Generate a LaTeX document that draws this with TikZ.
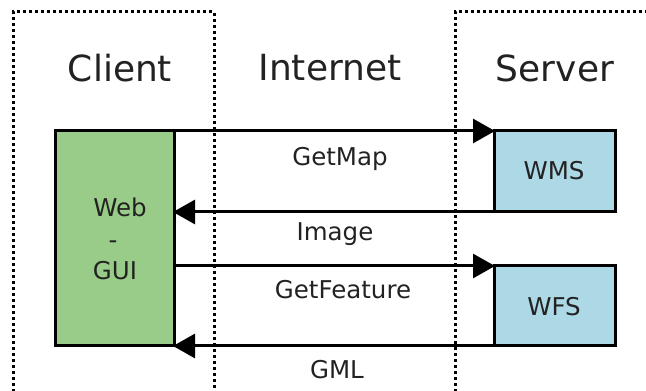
\documentclass[tikz,border=0pt]{standalone}
\usepackage{fontspec}
\setmainfont{DejaVu Sans}
\usetikzlibrary{arrows.meta}
\definecolor{guigreen}{HTML}{99CC88}
\definecolor{srvblue}{HTML}{ADD8E6}
\definecolor{txt}{HTML}{222222}
\tikzset{
  zone/.style={draw=black, line width=3pt, dash pattern=on 3pt off 3pt},
  zonetitle/.style={font=\fontsize{36}{40}\selectfont, text=txt},
  lbl/.style={font=\fontsize{24.5}{28}\selectfont, text=txt, anchor=base},
  gui/.style={draw=black, line width=3pt, fill=guigreen},
  svc/.style={draw=black, line width=3pt, fill=srvblue},
  msg/.style={line width=3pt, -{Triangle[length=22pt,width=24pt]}, shorten >=-1pt},
}
\begin{document}
\begin{tikzpicture}[x=1pt,y=1pt]
\useasboundingbox (0,0) rectangle (646,391);
\fill[white] (0,0) rectangle (646,391);

% client and server zones (their lower edges run along the page's bottom)
\draw[zone] (13,-1.2) rectangle (214,379);
\draw[zone] (455,-1.2) rectangle (670,379);

\node[zonetitle] (tclient) at (120,323) {Client};
\node[zonetitle] (tnet) at (330,323) {Internet};
\node[zonetitle] (tserver) at (555,323) {Server};

% boxes
\draw[gui] (55,45) rectangle (174,260);
\coordinate (gne) at (174,260);
\coordinate (gse) at (174,45);
\draw[svc] (494,179) rectangle (615,260);
\coordinate (wmsnw) at (494,260);
\coordinate (wmsse) at (615,179);
\draw[svc] (494,45) rectangle (615,125);
\coordinate (wfsnw) at (494,125);
\coordinate (wfsse) at (615,45);

% labels, placed by baseline
\node[lbl] (web) at (120,174) {Web};
\node[lbl] (dash) at (113,142) {-};
\node[lbl] (guit) at (115,111) {GUI};
\node[lbl] (wms) at (554,211) {WMS};
\node[lbl] (wfs) at (554,75) {WFS};

% messages
\draw[msg] (gne) -- (wmsnw);
\draw[msg] (wmsse) -- (gse |- wmsse);
\draw[msg] (gse |- wfsnw) -- (wfsnw);
\draw[msg] (wfsse) -- (gse);

\node[lbl] (getmap) at (340,225) {GetMap};
\node[lbl] (image) at (335,150) {Image};
\node[lbl] (getfeat) at (343,92) {GetFeature};
\node[lbl] (gml) at (337,12) {GML};
\end{tikzpicture}
\end{document}
